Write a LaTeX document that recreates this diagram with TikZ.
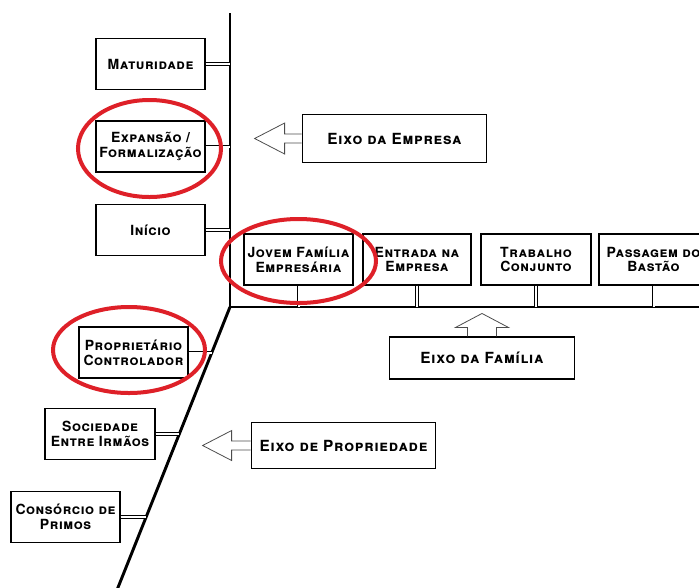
\documentclass[tikz,border=0pt]{standalone}
\usepackage{fontspec}
\setsansfont{TeX Gyre Heros}
\newfontfamily\stagefont[LetterSpace=4]{TeX Gyre Heros}
\newfontfamily\axisfont[LetterSpace=5]{TeX Gyre Heros}
\usetikzlibrary{calc}
\definecolor{markred}{RGB}{222,32,40}

\begin{document}
\begin{tikzpicture}[x=0.75pt, y=-0.75pt,
        stage_style/.style={draw=black, line width=0.8pt, fill=white, minimum width=81.75pt, minimum height=38.25pt, align=center, inner sep=0.5pt, font=\stagefont\bfseries\scshape\fontsize{10.5}{11}\selectfont},
        axis_label_style/.style={stage_style, minimum width=138.5pt, minimum height=36pt, font=\axisfont\bfseries\scshape\fontsize{11.5}{12}\selectfont},
        axis_style/.style={draw=black, line width=2.2pt},
        link_style/.style={draw=black, double=white, double distance=1.5pt, line width=0.6pt},
        pointer_style/.style={draw=black!70, line width=0.6pt, line join=miter},
        mark_style/.style={draw=markred, line width=3pt}]

        \path [use as bounding box, clip] (0,0) rectangle (699,587);

        % axes
        \coordinate (o) at (230,307);
        \coordinate (vtop) at (230,13);
        \coordinate (hend) at (715,307);
        \coordinate (dend) at (117,590);
        \draw [axis_style] (vtop) -- (o) -- (hend);
        \draw [axis_style] (o) -- (dend);
        \coordinate (d1) at ($(o)!0.1608!(dend)$);
        \coordinate (d2) at ($(o)!0.4488!(dend)$);
        \coordinate (d3) at ($(o)!0.742!(dend)$);

        % company axis
        \node [stage_style](e1) at (150.5,64) {Maturidade};
        \node [stage_style](e2) at (150.5,146.5) {Expansão /\\Formalização};
        \node [stage_style](e3) at (150.5,230) {Início};
        \draw [link_style] (e1.east) -- (e1.east -| o);
        \draw [link_style] (e2.east) -- (e2.east -| o);
        \draw [link_style] (e3.east) -- (e3.east -| o);

        % family axis
        \node [stage_style](f1) at (298.5,259.5) {Jovem Família\\Empresária};
        \node [stage_style, minimum width=81pt](f2) at (417,259.5) {Entrada na\\Empresa};
        \node [stage_style, minimum width=82.5pt](f3) at (536,259.5) {Trabalho\\Conjunto};
        \node [stage_style](f4) at (653.5,259.5) {\makebox[60pt]{Passagem do}\\Bastão};
        \draw [link_style] (f1.south) -- (f1.south |- o);
        \draw [link_style] (f2.south) -- (f2.south |- o);
        \draw [link_style] (f3.south) -- (f3.south |- o);
        \draw [link_style] (f4.south) -- (f4.south |- o);

        % ownership axis
        \node [stage_style](p1) at (133.5,352.5) {Proprietário\\Controlador};
        \node [stage_style, minimum width=82.5pt](p2) at (100,434) {Sociedade\\Entre Irmãos};
        \node [stage_style](p3) at (65.5,517) {Consórcio de\\Primos};
        \draw [link_style] (p1.east) -- (p1.east -| d1);
        \draw [link_style] (p2.east) -- (p2.east -| d2);
        \draw [link_style] (p3.east) -- (p3.east -| d3);

        % axis names
        \node [axis_label_style](ee) at (394.5,138.5) {Eixo da Empresa};
        \node [axis_label_style, minimum height=31.5pt](ef) at (482,358) {Eixo da Família};
        \node [axis_label_style, minimum height=35pt](ep) at (343.5,445.5) {Eixo de Propriedade};
        \draw [pointer_style] (ee.west) ++(0,-4.5) -- ++(-17,0) -- ++(0,-11) -- ++(-30,15.5) -- ++(30,15.5) -- ++(0,-11) -- ++(17,0);
        \draw [pointer_style] (ef.north) ++(-14.5,0) -- ++(0,-9) -- ++(-12,0) -- ++(26.5,-14) -- ++(26.5,14) -- ++(-12,0) -- ++(0,9);
        \draw [pointer_style] (ep.west) ++(0,-4.5) -- ++(-19,0) -- ++(0,-10.5) -- ++(-29,15) -- ++(29,15) -- ++(0,-10.5) -- ++(19,0);

        % highlights
        \draw [mark_style] ($(e2)+(-1,2)$) ellipse [x radius=71.5, y radius=48.5];
        \draw [mark_style] ($(f1)+(0,1.5)$) ellipse [x radius=77.5, y radius=42];
        \draw [mark_style] ($(p1)+(-4.5,-2.5)$) ellipse [x radius=76, y radius=43];
        \end{tikzpicture}
\end{document}
